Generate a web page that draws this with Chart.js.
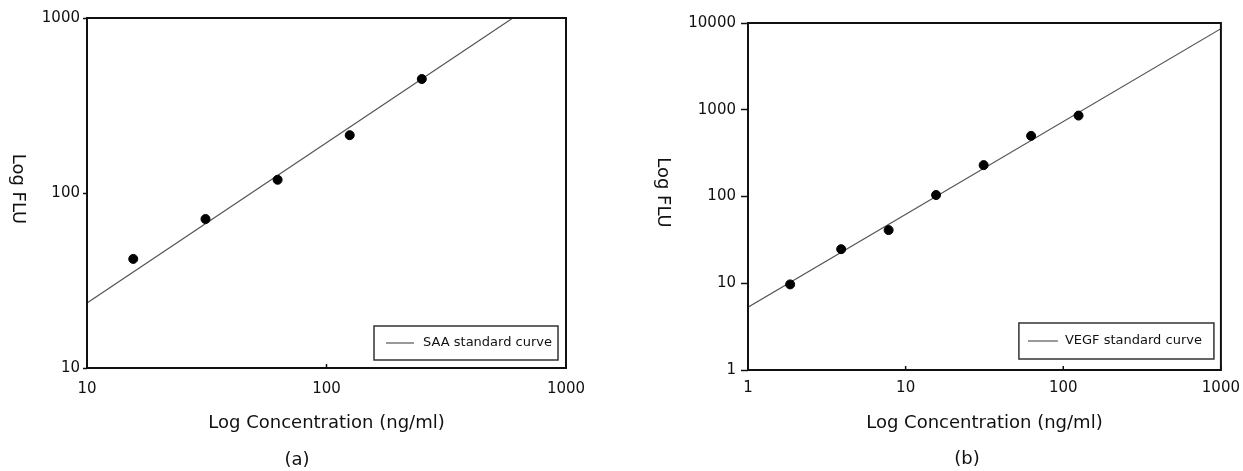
<!DOCTYPE html>
<html>
<head>
<meta charset="utf-8">
<script src="https://cdn.jsdelivr.net/npm/chart.js@4.4.1/dist/chart.umd.min.js"></script>
<style>
  body { margin: 0; background: #fff; width: 1243px; height: 471px; position: relative; overflow: hidden; }
  canvas { position: absolute; top: 0; }
  #chartA { left: 0; }
  #chartB { left: 630px; }
  .cap { position: absolute; font-family: 'DejaVu Sans', sans-serif; font-size: 18px; color: #111; transform: translate(-50%, -50%); }
</style>
</head>
<body>
<canvas id="chartA" width="610" height="471"></canvas>
<canvas id="chartB" width="619" height="471"></canvas>
<div class="cap" style="left:297px; top:458px;">(a)</div>
<div class="cap" style="left:967px; top:457px;">(b)</div>
<script>
// (a) SAA
var saaConc = [15.6, 31.25, 62.5, 125, 250];
var saaFlu = [42, 71, 119, 214, 448];
var saaFitConc = [10, 600];
var saaFitFlu = [23.5, 1000];
var saaXTicks = [10, 100, 1000];
var saaYTicks = [10, 100, 1000];

// (b) VEGF
var vegfConc = [1.85, 3.9, 7.8, 15.6, 31.25, 62.5, 125];
var vegfFlu = [9.7, 24.7, 41, 104, 230, 500, 857];
var vegfFitConc = [1, 1000];
var vegfFitFlu = [5.3, 8600];
var vegfXTicks = [1, 10, 100, 1000];
var vegfYTicks = [1, 10, 100, 1000, 10000];

var FONT = "'DejaVu Sans', sans-serif";
var INK = '#111';

function pairs(xs, ys) {
    return xs.map(function (x, i) { return { x: x, y: ys[i] }; });
}

// frame around plot area + small inward ticks on x axis
var framePlugin = {
    id: 'frame',
    afterDraw: function (chart) {
        var a = chart.chartArea, ctx = chart.ctx;
        ctx.save();
        ctx.strokeStyle = INK;
        ctx.lineWidth = 2;
        ctx.strokeRect(a.left, a.top, a.right - a.left, a.bottom - a.top);
        ctx.lineWidth = 1.5;
        var xs = chart.scales.x;
        xs.ticks.forEach(function (t) {
            var px = xs.getPixelForValue(t.value);
            ctx.beginPath();
            ctx.moveTo(px, a.bottom);
            ctx.lineTo(px, a.bottom - 4);
            ctx.stroke();
        });
        ctx.restore();
    }
};

// y title reading top-to-bottom
var yTitlePlugin = {
    id: 'yTitle',
    afterDraw: function (chart, args, opts) {
        var a = chart.chartArea, ctx = chart.ctx;
        ctx.save();
        ctx.translate(opts.x, (a.top + a.bottom) / 2 - 4);
        ctx.rotate(Math.PI / 2);
        ctx.font = '18px ' + FONT;
        ctx.fillStyle = INK;
        ctx.textAlign = 'center';
        ctx.textBaseline = 'middle';
        ctx.fillText(opts.text, 0, 0);
        ctx.restore();
    }
};

// legend box inside plot area, lower right
var boxLegendPlugin = {
    id: 'boxLegend',
    afterDraw: function (chart, args, opts) {
        var a = chart.chartArea, ctx = chart.ctx;
        var ds = chart.data.datasets[opts.dataset];
        ctx.save();
        ctx.font = '13px ' + FONT;
        var tw = ctx.measureText(ds.label).width;
        var w = opts.padLeft + opts.lineLen + opts.gap + tw + opts.padRight;
        var h = opts.height;
        var x0 = a.right - opts.right - w;
        var y0 = a.bottom - opts.bottom - h;
        ctx.fillStyle = '#fff';
        ctx.fillRect(x0, y0, w, h);
        ctx.strokeStyle = '#333';
        ctx.lineWidth = 1.5;
        ctx.strokeRect(x0, y0, w, h);
        ctx.strokeStyle = ds.borderColor;
        ctx.lineWidth = 1.2;
        ctx.beginPath();
        ctx.moveTo(x0 + opts.padLeft, y0 + h / 2);
        ctx.lineTo(x0 + opts.padLeft + opts.lineLen, y0 + h / 2);
        ctx.stroke();
        ctx.fillStyle = INK;
        ctx.textBaseline = 'middle';
        ctx.fillText(ds.label, x0 + opts.padLeft + opts.lineLen + opts.gap, y0 + h / 2);
        ctx.restore();
    }
};

function makeChart(id, cfg) {
    var ctx = document.getElementById(id);
    return new Chart(ctx, {
        type: 'scatter',
        data: {
            datasets: [
                {
                    label: 'points',
                    data: pairs(cfg.conc, cfg.flu),
                    backgroundColor: '#000',
                    borderColor: '#000',
                    pointRadius: 4.5,
                    pointStyle: 'circle'
                },
                {
                    label: cfg.curveLabel,
                    data: pairs(cfg.fitConc, cfg.fitFlu),
                    showLine: true,
                    borderColor: '#555',
                    borderWidth: 1.2,
                    pointRadius: 0
                }
            ]
        },
        options: {
            responsive: false,
            animation: false,
            devicePixelRatio: 1,
            layout: { padding: cfg.padding },
            plugins: {
                legend: { display: false },
                tooltip: { enabled: false },
                yTitle: { text: 'Log FLU', x: cfg.yTitleX },
                boxLegend: cfg.legend
            },
            scales: {
                x: {
                    type: 'logarithmic',
                    min: cfg.xTicks[0],
                    max: cfg.xTicks[cfg.xTicks.length - 1],
                    afterBuildTicks: function (s) { s.ticks = cfg.xTicks.map(function (v) { return { value: v }; }); },
                    afterFit: function (s) { s.height = cfg.xAxisH; },
                    border: { display: false },
                    grid: { display: true, drawOnChartArea: false, drawTicks: false },
                    ticks: {
                        padding: cfg.xTickPad,
                        color: INK,
                        font: { family: FONT, size: 15 },
                        maxRotation: 0,
                        callback: function (v) { return String(v); }
                    },
                    title: {
                        display: true,
                        text: 'Log Concentration (ng/ml)',
                        color: INK,
                        font: { family: FONT, size: 18 },
                        padding: { top: 0, bottom: 0 }
                    }
                },
                y: {
                    type: 'logarithmic',
                    min: cfg.yTicks[0],
                    max: cfg.yTicks[cfg.yTicks.length - 1],
                    afterBuildTicks: function (s) { s.ticks = cfg.yTicks.map(function (v) { return { value: v }; }); },
                    afterFit: function (s) { s.width = cfg.yAxisW; },
                    border: { display: false },
                    grid: { display: true, drawOnChartArea: false, drawTicks: true, tickLength: cfg.yTickLen, color: INK, tickWidth: 1.5 },
                    ticks: {
                        padding: cfg.yTickPad,
                        color: INK,
                        font: { family: FONT, size: 15 },
                        callback: function (v) { return String(v); }
                    }
                }
            }
        },
        plugins: [framePlugin, yTitlePlugin, boxLegendPlugin]
    });
}

makeChart('chartA', {
    conc: saaConc, flu: saaFlu, fitConc: saaFitConc, fitFlu: saaFitFlu,
    xTicks: saaXTicks, yTicks: saaYTicks,
    curveLabel: 'SAA standard curve',
    padding: { left: 0, right: 44, top: 18, bottom: 37 },
    xAxisH: 66, yAxisW: 87, xTickPad: 12, yTickLen: 4, yTickPad: 3,
    yTitleX: 18,
    legend: { dataset: 1, right: 8, bottom: 8, height: 34, padLeft: 12, lineLen: 28, gap: 9, padRight: 6 }
});

makeChart('chartB', {
    conc: vegfConc, flu: vegfFlu, fitConc: vegfFitConc, fitFlu: vegfFitFlu,
    xTicks: vegfXTicks, yTicks: vegfYTicks,
    curveLabel: 'VEGF standard curve',
    padding: { left: 0, right: 28, top: 23, bottom: 37 },
    xAxisH: 64, yAxisW: 118, xTickPad: 9, yTickLen: 7, yTickPad: 5,
    yTitleX: 33,
    legend: { dataset: 1, right: 7, bottom: 11, height: 36, padLeft: 9, lineLen: 30, gap: 7, padRight: 12 }
});
</script>
</body>
</html>
